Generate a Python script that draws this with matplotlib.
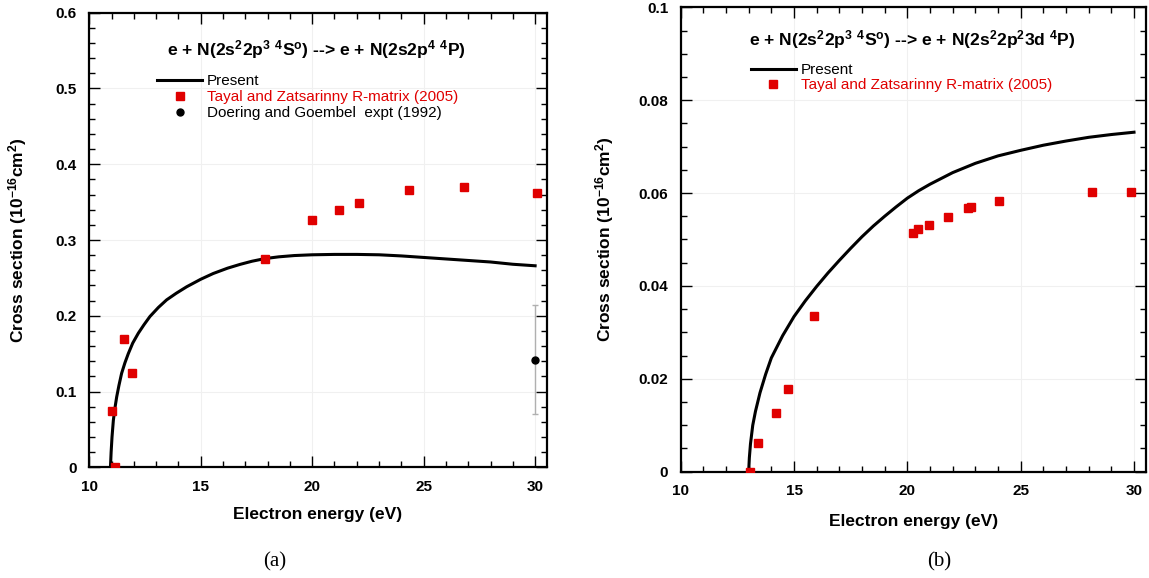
import numpy
import matplotlib
matplotlib.use('Agg')
import matplotlib.pyplot as plt
from matplotlib.ticker import MultipleLocator, FuncFormatter

plt.rcParams['font.family'] = ['Liberation Sans', 'DejaVu Sans']
plt.rcParams['mathtext.fontset'] = 'custom'
plt.rcParams['mathtext.rm'] = 'Liberation Sans:bold'
plt.rcParams['mathtext.it'] = 'Liberation Sans:bold'
plt.rcParams['mathtext.bf'] = 'Liberation Sans:bold'
plt.rcParams['mathtext.default'] = 'bf'

# (a) e + N(2s2 2p3 4S) --> e + N(2s2p4 4P)
present_a_x = [10.95, 10.98, 11.02, 11.08, 11.15, 11.23, 11.33, 11.45, 11.6, 11.75, 11.95, 12.2, 12.45,
               12.72, 13.1, 13.47, 13.9, 14.37, 15.0, 15.56, 16.2, 16.76, 17.3, 17.88, 18.5, 19.2, 20.0,
               21.0, 22.0, 23.0, 24.0, 25.0, 26.0, 27.0, 28.0, 29.0, 30.0]
present_a_y = [0.0, 0.02, 0.04, 0.062, 0.078, 0.093, 0.108, 0.124, 0.138, 0.150, 0.164, 0.177, 0.188,
               0.199, 0.211, 0.221, 0.2297, 0.2383, 0.2482, 0.2558, 0.2628, 0.2678, 0.272, 0.2755, 0.2778,
               0.2795, 0.2805, 0.281, 0.281, 0.2805, 0.279, 0.277, 0.275, 0.273, 0.271, 0.268, 0.266]
tayal_a_x = [11.04, 11.17, 11.57, 11.92, 17.88, 19.98, 21.22, 22.08, 24.36, 26.79, 30.1]
tayal_a_y = [0.074, 0.0, 0.170, 0.125, 0.275, 0.326, 0.340, 0.349, 0.366, 0.370, 0.362]
doering_x = [30.0]
doering_y = [0.142]
doering_lo = [0.071]
doering_hi = [0.214]

# (b) e + N(2s2 2p3 4S) --> e + N(2s2 2p2 3d 4P)
present_b_x = [13.0, 13.03, 13.08, 13.18, 13.3, 13.5, 13.75, 14.0, 14.5, 15.0, 15.5, 16.0, 16.5, 17.0,
               17.5, 18.0, 18.5, 19.0, 19.5, 20.0, 20.5, 21.0, 22.0, 23.0, 24.0, 25.0, 26.0, 27.0,
               28.0, 29.0, 30.0]
present_b_y = [0.0, 0.003, 0.006, 0.010, 0.013, 0.017, 0.021, 0.0245, 0.0293, 0.0334, 0.0368, 0.0399,
               0.0428, 0.0455, 0.0481, 0.0506, 0.0529, 0.0550, 0.0570, 0.0589, 0.0605, 0.0619, 0.0644,
               0.0664, 0.0680, 0.0692, 0.0703, 0.0712, 0.0720, 0.0726, 0.0731]
tayal_b_x = [13.06, 13.39, 14.22, 14.72, 15.89, 20.26, 20.45, 20.96, 21.81, 22.66, 22.82, 24.03, 28.14, 29.86]
tayal_b_y = [0.0, 0.0061, 0.0127, 0.0179, 0.0335, 0.0515, 0.0522, 0.0532, 0.0549, 0.0567, 0.0570, 0.0582,
             0.0603, 0.0603]

title_a = r'e + N(2s$^2$2p$^3$ $^4$S$^o$) --> e + N(2s2p$^4$ $^4$P)'
title_b = r'e + N(2s$^2$2p$^3$ $^4$S$^o$) --> e + N(2s$^2$2p$^2$3d $^4$P)'
ylab = r'Cross section (10$^{-16}$cm$^2$)'
xlab = 'Electron energy (eV)'
red = '#e00000'

fig = plt.figure(figsize=(11.49, 5.78), dpi=100)
ax1 = fig.add_axes([0.0777, 0.1915, 0.3981, 0.7865])
ax2 = fig.add_axes([0.5924, 0.1839, 0.4052, 0.8035])


def style(ax, ymaj, ymin):
    ax.xaxis.set_major_locator(MultipleLocator(5))
    ax.xaxis.set_minor_locator(MultipleLocator(1))
    ax.yaxis.set_major_locator(MultipleLocator(ymaj))
    ax.yaxis.set_minor_locator(MultipleLocator(ymin))
    ax.yaxis.set_major_formatter(FuncFormatter(lambda v, p: '%g' % round(v, 4)))
    ax.tick_params(which='both', direction='in', top=True, right=True, width=1, labelsize=11)
    ax.tick_params(which='major', length=8, pad=9)
    ax.tick_params(which='minor', length=4)
    for lab in ax.get_xticklabels() + ax.get_yticklabels():
        lab.set_fontweight('bold')
    for s in ax.spines.values():
        s.set_linewidth(1.6)
    ax.grid(True, which='major', color='#f0f0f0', lw=0.8)
    ax.set_axisbelow(True)
    ax.set_xlabel(xlab, fontsize=12.5, fontweight='bold')
    ax.set_ylabel(ylab, fontsize=12.5, fontweight='bold')


# panel (a)
ax1.plot(present_a_x, present_a_y, color='black', lw=2.2, label='Present', zorder=3)
ax1.plot(tayal_a_x, tayal_a_y, ls='none', marker='s', ms=5.5, color=red, label='Tayal and Zatsarinny R-matrix (2005)', zorder=4)
err = [numpy.array(doering_y) - numpy.array(doering_lo), numpy.array(doering_hi) - numpy.array(doering_y)]
ax1.errorbar(doering_x, doering_y, yerr=err, ls='none', ecolor='#b0b0b0', elinewidth=1, capsize=2.5, zorder=3)
ax1.plot(doering_x, doering_y, ls='none', marker='o', ms=5, color='black', label='Doering and Goembel  expt (1992)', zorder=4)
ax1.set_xlim(10, 30.52)
ax1.set_ylim(0, 0.6)
style(ax1, 0.1, 0.02)
ax1.xaxis.set_label_coords(0.5, -0.088)
ax1.yaxis.set_label_coords(-0.132, 0.5)
ax1.text(0.496, 0.918, title_a, transform=ax1.transAxes, ha='center', va='center', fontsize=12.6, fontweight='bold')
leg = ax1.legend(loc='upper left', bbox_to_anchor=(0.148, 0.865), frameon=False, fontsize=11, numpoints=1,
                 handlelength=2.96, handletextpad=0.3, labelspacing=0.13, borderpad=0, borderaxespad=0)
leg.get_texts()[1].set_color(red)
fig.text(275 / 1149, 1 - 561.7 / 578, '(a)', family='Liberation Serif', fontsize=15, ha='center', va='center')

# panel (b)
ax2.plot(present_b_x, present_b_y, color='black', lw=2.2, label='Present', zorder=3)
ax2.plot(tayal_b_x, tayal_b_y, ls='none', marker='s', ms=5.5, color=red, label='Tayal and Zatsarinny R-matrix (2005)', zorder=4)
ax2.set_xlim(10, 30.54)
ax2.set_ylim(0, 0.1)
style(ax2, 0.02, 0.005)
ax2.xaxis.set_label_coords(0.5, -0.091)
ax2.yaxis.set_label_coords(-0.138, 0.5)
ax2.text(0.497, 0.931, title_b, transform=ax2.transAxes, ha='center', va='center', fontsize=12.6, fontweight='bold')
leg = ax2.legend(loc='upper left', bbox_to_anchor=(0.150, 0.879), frameon=False, fontsize=11, numpoints=1,
                 handlelength=3.0, handletextpad=0.3, labelspacing=0.05, borderpad=0, borderaxespad=0)
leg.get_texts()[1].set_color(red)
fig.text(939 / 1149, 1 - 561.7 / 578, '(b)', family='Liberation Serif', fontsize=15, ha='center', va='center')

plt.savefig('out.png', dpi=100)
